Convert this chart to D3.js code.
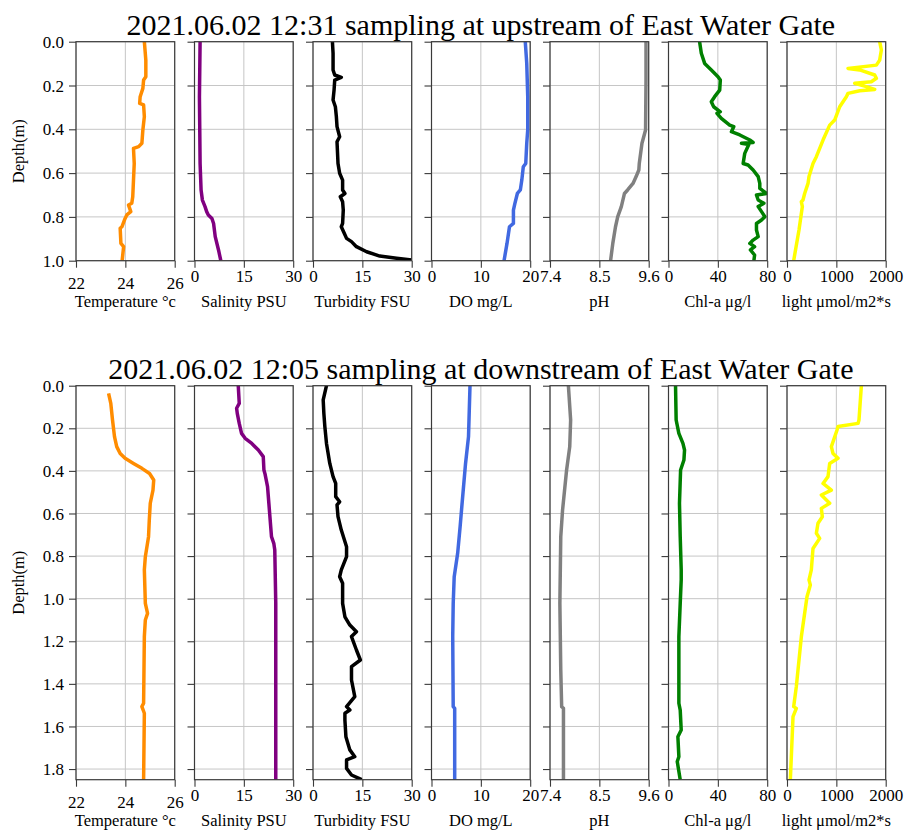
<!DOCTYPE html>
<html>
<head>
<meta charset="utf-8">
<script src="https://cdn.jsdelivr.net/npm/d3@7"></script>
<style>
  html, body { margin: 0; padding: 0; background: #fff; }
  svg { display: block; }
  svg text { font-family: "Liberation Serif", "Times New Roman", serif !important; fill: #000; }
</style>
</head>
<body>
<svg id="chart" width="904" height="830"></svg>
<script>
// ---------- Titles / labels ----------
const rowTitles = [
  "2021.06.02 12:31 sampling at upstream of East Water Gate",
  "2021.06.02 12:05 sampling at downstream of East Water Gate"
];
const xLabels = ["Temperature °c", "Salinity PSU", "Turbidity FSU", "DO mg/L", "pH", "Chl-a μg/l", "light μmol/m2*s"];
const xDomains = [[22, 26], [0, 30], [0, 30], [0, 20], [7.4, 9.6], [0, 80], [0, 2000]];
const xTickValues = [[22, 24, 26], [0, 15, 30], [0, 15, 30], [0, 10, 20], [7.4, 8.5, 9.6], [0, 40, 80], [0, 1000, 2000]];
const xTickLabels = [["22", "24", "26"], ["0", "15", "30"], ["0", "15", "30"], ["0", "10", "20"], ["7.4", "8.5", "9.6"], ["0", "40", "80"], ["0", "1000", "2000"]];
const lineColors = ["#ff8c00", "#800080", "#000000", "#4169e1", "#808080", "#008000", "#ffff00"];
const yLabel = "Depth(m)";
const upDepthDomain = [0, 1.0];
const downDepthDomain = [0, 1.85];
const upDepthTicks = [0, 0.2, 0.4, 0.6, 0.8, 1.0];
const downDepthTicks = [0, 0.2, 0.4, 0.6, 0.8, 1.0, 1.2, 1.4, 1.6, 1.8];

// ---------- Upstream (12:31) ----------
const upTempDepth = [0.000,0.084,0.160,0.175,0.213,0.251,0.282,0.289,0.342,0.403,0.464,0.479,0.487,0.556,0.632,0.708,0.738,0.746,0.776,0.791,0.807,0.845,0.852,0.921,0.936,1.000];
const upTempVal   = [24.77,24.83,24.83,24.74,24.71,24.60,24.58,24.74,24.77,24.71,24.67,24.54,24.33,24.36,24.33,24.30,24.26,24.13,24.22,24.06,23.99,23.86,23.79,23.82,23.93,23.87];

const upSalDepth = [0.000,0.251,0.556,0.677,0.723,0.753,0.776,0.791,0.807,0.830,0.890,0.951,1.000];
const upSalVal   = [1.7,1.5,1.7,2.0,2.4,3.2,3.7,4.2,5.3,5.8,6.3,7.3,8.0];

const upTurbDepth = [0.000,0.053,0.129,0.152,0.163,0.175,0.221,0.266,0.297,0.342,0.388,0.434,0.457,0.556,0.601,0.632,0.677,0.693,0.708,0.731,0.769,0.830,0.845,0.875,0.898,0.913,0.936,0.959,0.979,0.989,0.997];
const upTurbVal   = [5.9,6.1,6.1,6.6,8.6,6.6,6.4,6.1,6.8,7.1,7.3,8.1,7.3,7.6,8.1,9.0,9.0,9.7,8.3,9.0,9.2,9.0,8.6,9.5,10.2,11.7,13.2,16.3,20.3,25.4,30.0];

const upDODepth = [0.000,0.099,0.251,0.403,0.464,0.556,0.571,0.632,0.677,0.693,0.738,0.769,0.830,0.845,0.921,1.000];
const upDOVal   = [19.0,19.3,19.5,19.5,19.3,19.1,18.6,18.3,18.0,17.4,16.9,16.6,16.6,15.8,15.3,14.7];

const upPHDepth = [0.000,0.175,0.403,0.449,0.464,0.556,0.586,0.616,0.647,0.677,0.693,0.753,0.799,0.845,0.921,1.000];
const upPHVal   = [9.54,9.54,9.53,9.47,9.45,9.39,9.38,9.32,9.25,9.13,9.06,8.99,8.91,8.86,8.80,8.75];

const upChlDepth = [0.000,0.053,0.099,0.129,0.160,0.175,0.221,0.251,0.274,0.297,0.320,0.327,0.350,0.381,0.388,0.411,0.426,0.449,0.460,0.464,0.469,0.510,0.556,0.563,0.586,0.616,0.647,0.670,0.693,0.700,0.723,0.738,0.753,0.776,0.799,0.814,0.830,0.860,0.890,0.906,0.921,0.936,0.951,0.974,1.000];
const upChlVal   = [25.2,26.6,29.3,34.7,40.1,42.0,41.5,37.4,34.7,36.6,42.0,39.3,42.8,49.6,52.9,51.0,57.8,65.9,68.6,59.1,65.1,61.8,60.5,64.5,68.6,72.7,74.0,74.0,79.5,71.3,72.7,77.3,72.7,75.4,78.1,75.4,71.3,71.3,72.7,68.6,65.9,69.8,66.4,69.8,69.2];

const upLightDepth = [0.000,0.038,0.084,0.107,0.122,0.129,0.152,0.167,0.183,0.190,0.205,0.218,0.224,0.236,0.251,0.297,0.358,0.381,0.449,0.525,0.556,0.616,0.647,0.693,0.723,0.731,0.753,0.860,1.000];
const upLightVal   = [1878,1912,1878,1811,1236,1473,1777,1811,1709,1372,1608,1777,1473,1236,1203,1068,966,865,730,595,527,446,426,358,324,291,311,243,135];

// ---------- Downstream (12:05) ----------
const downTempDepth = [0.036,0.083,0.161,0.239,0.286,0.318,0.341,0.365,0.388,0.412,0.443,0.490,0.552,0.631,0.709,0.803,0.865,1.022,1.069,1.100,1.178,1.491,1.507,1.538,1.850];
const downTempVal   = [23.32,23.41,23.48,23.56,23.65,23.79,23.99,24.33,24.67,24.98,25.15,25.12,25.01,24.97,24.94,24.81,24.77,24.81,24.90,24.81,24.77,24.74,24.67,24.77,24.74];

const downSalDepth = [0.000,0.083,0.106,0.130,0.177,0.224,0.247,0.271,0.302,0.333,0.396,0.412,0.474,0.552,0.709,0.740,0.772,1.022,1.850];
const downSalVal   = [13.3,13.6,12.8,13.0,13.6,14.3,15.4,17.4,19.4,20.9,21.1,21.4,22.2,22.6,23.4,24.1,24.4,24.7,24.7];

const downTurbDepth = [0.000,0.067,0.130,0.192,0.271,0.365,0.427,0.459,0.521,0.545,0.560,0.615,0.678,0.756,0.803,0.865,0.897,0.928,1.022,1.085,1.124,1.155,1.178,1.241,1.288,1.319,1.382,1.460,1.507,1.523,1.538,1.570,1.648,1.710,1.742,1.757,1.797,1.828,1.850];
const downTurbVal   = [4.1,3.1,3.3,3.6,4.1,5.1,6.1,6.9,6.9,8.1,7.3,7.6,8.6,10.2,10.2,8.6,8.1,9.0,9.0,9.7,11.2,13.2,11.7,13.2,14.4,11.7,11.7,12.7,10.2,11.2,9.7,9.7,10.0,11.2,12.7,10.2,10.2,11.7,14.8];

const downDODepth = [0.000,0.239,0.365,0.552,0.662,0.787,0.897,1.022,1.178,1.507,1.515,1.850];
const downDOVal   = [7.8,7.5,6.9,6.2,5.8,5.3,4.6,4.4,4.3,4.4,4.7,4.7];

const downPHDepth = [0.000,0.161,0.286,0.396,0.584,0.709,1.022,1.335,1.507,1.515,1.850];
const downPHVal   = [7.81,7.86,7.84,7.77,7.68,7.64,7.62,7.64,7.66,7.70,7.70];

const downChlDepth = [0.000,0.161,0.224,0.271,0.302,0.349,0.396,0.552,0.709,0.865,0.912,1.022,1.178,1.491,1.523,1.617,1.648,1.742,1.765,1.850];
const downChlVal   = [5.7,6.2,8.4,11.7,13.0,12.5,9.8,8.9,9.5,10.3,10.3,9.5,8.4,8.4,9.5,10.3,7.6,8.4,7.1,9.5];

const downLightDepth = [0.000,0.161,0.177,0.192,0.208,0.286,0.318,0.341,0.365,0.427,0.459,0.490,0.513,0.552,0.576,0.615,0.646,0.693,0.717,0.764,0.865,0.912,0.936,0.991,1.178,1.413,1.507,1.515,1.554,1.850];
const downLightVal   = [1507,1459,1439,1034,1014,899,932,1034,865,831,730,899,696,865,696,716,628,595,662,527,493,446,473,405,291,189,135,189,122,68];

// ---------- Assemble ----------
const zip = (d, v) => d.map((dd, i) => ({ depth: dd, value: v[i] }));
const rows = [
  {
    title: rowTitles[0], top: 41.7, bottom: 260.7, domain: upDepthDomain, ticks: upDepthTicks,
    series: [zip(upTempDepth, upTempVal), zip(upSalDepth, upSalVal), zip(upTurbDepth, upTurbVal),
             zip(upDODepth, upDOVal), zip(upPHDepth, upPHVal), zip(upChlDepth, upChlVal), zip(upLightDepth, upLightVal)]
  },
  {
    title: rowTitles[1], top: 385.7, bottom: 779.7, domain: downDepthDomain, ticks: downDepthTicks,
    series: [zip(downTempDepth, downTempVal), zip(downSalDepth, downSalVal), zip(downTurbDepth, downTurbVal),
             zip(downDODepth, downDOVal), zip(downPHDepth, downPHVal), zip(downChlDepth, downChlVal), zip(downLightDepth, downLightVal)]
  }
];

const svg = d3.select("#chart");
const FONT = '"Liberation Serif", "Times New Roman", serif';
const panelLeft = 76, panelStep = 118.5, panelW = 98.7;
const FS = 16.5;     // axis label size
const TFS = 17;      // tick label size
const gridColor = "#c6c6c6";
const spineColor = "#3a3a3a";
const fmtY = d3.format(".1f");
const defs = svg.append("defs");

rows.forEach((row, r) => {
  const y = d3.scaleLinear().domain(row.domain).range([row.top, row.bottom]);
  const panelH = row.bottom - row.top;

  for (let i = 0; i < 7; i++) {
    const x0 = panelLeft + i * panelStep;
    const x = d3.scaleLinear().domain(xDomains[i]).range([x0, x0 + panelW]);
    const g = svg.append("g");

    // grid
    g.selectAll("line.gy").data(row.ticks).enter().append("line")
      .attr("x1", x0).attr("x2", x0 + panelW)
      .attr("y1", d => y(d)).attr("y2", d => y(d))
      .attr("stroke", gridColor).attr("stroke-width", 1);
    g.selectAll("line.gx").data(xTickValues[i]).enter().append("line")
      .attr("x1", d => x(d)).attr("x2", d => x(d))
      .attr("y1", row.top).attr("y2", row.bottom)
      .attr("stroke", gridColor).attr("stroke-width", 1);

    // clip
    const cid = `clip-${r}-${i}`;
    defs.append("clipPath").attr("id", cid).append("rect")
      .attr("x", x0).attr("y", row.top).attr("width", panelW).attr("height", panelH);

    // line
    const line = d3.line().x(d => x(d.value)).y(d => y(d.depth));
    g.append("path").datum(row.series[i])
      .attr("clip-path", `url(#${cid})`)
      .attr("d", line)
      .attr("fill", "none")
      .attr("stroke", lineColors[i])
      .attr("stroke-width", 3.5)
      .attr("stroke-linejoin", "round")
      .attr("stroke-linecap", "butt");

    // x axis
    const xa = g.append("g").attr("transform", `translate(0,${row.bottom})`)
      .call(d3.axisBottom(x).tickValues(xTickValues[i])
        .tickFormat((d, k) => xTickLabels[i][k]).tickSize(7).tickPadding(3));
    xa.attr("font-family", FONT).attr("font-size", TFS);
    xa.select(".domain").remove();
    xa.selectAll(".tick line").attr("stroke", spineColor).attr("stroke-width", 1.1);
    xa.selectAll(".tick text")
      .attr("y", i === 0 ? 28 : 21).attr("dy", null)
      .style("font-family", FONT).style("font-size", TFS + "px").attr("fill", "#000");

    // y axis
    const ya = g.append("g").attr("transform", `translate(${x0},0)`)
      .call(d3.axisLeft(y).tickValues(row.ticks)
        .tickFormat(i === 0 ? fmtY : () => "").tickSize(7).tickPadding(5));
    ya.attr("font-family", FONT).attr("font-size", TFS);
    ya.select(".domain").remove();
    ya.selectAll(".tick line").attr("stroke", spineColor).attr("stroke-width", 1.1);
    ya.selectAll(".tick text").style("font-family", FONT).style("font-size", TFS + "px")
      .attr("fill", "#000").attr("dy", "0.33em");

    // spines
    g.append("rect").attr("x", x0).attr("y", row.top).attr("width", panelW).attr("height", panelH)
      .attr("fill", "none").attr("stroke", spineColor).attr("stroke-width", 1.2);

    // x label
    g.append("text").attr("x", x0 + panelW / 2).attr("y", row.bottom + 46.5)
      .attr("text-anchor", "middle").style("font-family", FONT).style("font-size", FS + "px").text(xLabels[i]);
  }

  // y label
  svg.append("text")
    .attr("transform", `translate(23.5,${(row.top + row.bottom) / 2}) rotate(-90)`)
    .attr("text-anchor", "middle").style("font-family", FONT).style("font-size", FS + "px").text(yLabel);

  // title (centred over the middle panel)
  svg.append("text").attr("x", panelLeft + 3 * panelStep + panelW / 2).attr("y", row.top - 7)
    .attr("text-anchor", "middle").style("font-family", FONT).style("font-size", "30px").text(row.title);
});
</script>
</body>
</html>
